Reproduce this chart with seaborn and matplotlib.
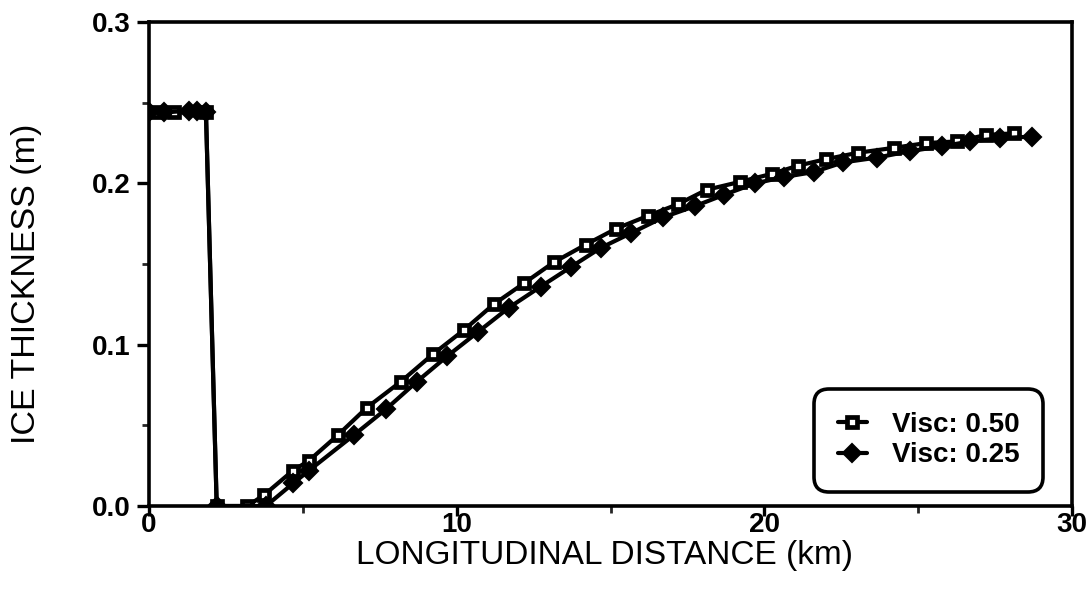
import matplotlib
matplotlib.use("Agg")
import matplotlib.pyplot as plt
import seaborn as sns
import pandas as pd

# ---- data ----
visc050_x = [0.2, 0.8, 1.85, 2.2, 3.2, 3.75, 4.68, 5.19, 6.14, 7.08, 8.18, 9.22, 10.23,
             11.2, 12.18, 13.15, 14.19, 15.19, 16.23, 17.18, 18.12, 19.22, 20.26,
             21.1, 22.0, 23.05, 24.2, 25.26, 26.27, 27.2, 28.1]
visc050_y = [0.244, 0.244, 0.244, 0.0, 0.0, 0.007, 0.022, 0.028, 0.044, 0.061, 0.077,
             0.094, 0.109, 0.125, 0.138, 0.151, 0.162, 0.172, 0.180, 0.187, 0.196,
             0.201, 0.206, 0.211, 0.215, 0.219, 0.222, 0.225, 0.226, 0.230, 0.231]

visc025_x = [0.0, 0.5, 1.3, 1.55, 1.85, 2.2, 3.8, 4.68, 5.2, 6.66, 7.7, 8.7, 9.7, 10.7,
             11.7, 12.73, 13.7, 14.68, 15.65, 16.72, 17.76, 18.7, 19.7, 20.65, 21.6,
             22.56, 23.67, 24.74, 25.78, 26.69, 27.66, 28.7]
visc025_y = [0.244, 0.244, 0.245, 0.245, 0.244, 0.0, 0.0, 0.014, 0.022, 0.044, 0.060,
             0.077, 0.093, 0.108, 0.123, 0.136, 0.148, 0.160, 0.169, 0.179, 0.186,
             0.193, 0.200, 0.204, 0.207, 0.213, 0.216, 0.220, 0.223, 0.226, 0.228, 0.229]

series_labels = ["Visc: 0.50", "Visc: 0.25"]
x_ticks = [0, 10, 20, 30]
y_ticks = [0.0, 0.1, 0.2, 0.3]
x_minor = [5, 15, 25]
y_minor = [0.05, 0.15, 0.25]
x_label = "LONGITUDINAL DISTANCE (km)"
y_label = "ICE THICKNESS (m)"

sns.set_theme(style="ticks")
plt.rcParams["font.family"] = ["Liberation Sans", "DejaVu Sans"]
plt.rcParams["text.color"] = "black"

fig = plt.figure(figsize=(10.91, 5.96), dpi=100)
ax = fig.add_axes([0.1366, 0.151, 0.846, 0.812])

df050 = pd.DataFrame({"x": visc050_x, "y": visc050_y})
df025 = pd.DataFrame({"x": visc025_x, "y": visc025_y})

LW = 3.0
sns.lineplot(data=df050, x="x", y="y", ax=ax, color="black", lw=LW, sort=False,
             estimator=None, marker="s", markersize=7.5, markerfacecolor="white",
             markeredgecolor="black", markeredgewidth=3.4, label=series_labels[0])
sns.lineplot(data=df025, x="x", y="y", ax=ax, color="black", lw=LW, sort=False,
             estimator=None, marker="D", markersize=9.5, markerfacecolor="black",
             markeredgecolor="black", markeredgewidth=1.5, label=series_labels[1])

ax.set_xlim(0, 30)
ax.set_ylim(0, 0.3)
ax.set_xticks(x_ticks)
ax.set_yticks(y_ticks)
ax.set_xticklabels([str(t) for t in x_ticks])
ax.set_yticklabels([f"{t:.1f}" for t in y_ticks])
ax.set_xticks(x_minor, minor=True)
ax.set_yticks(y_minor, minor=True)

for s in ax.spines.values():
    s.set_visible(True)
    s.set_linewidth(2.6)
    s.set_color("black")

ax.tick_params(axis="both", which="major", direction="out", length=9, width=2.4,
               labelsize=20, colors="black")
ax.tick_params(axis="both", which="minor", direction="out", length=5, width=2.0)
ax.tick_params(axis="x", which="major", length=7, pad=-2.5)
ax.tick_params(axis="y", which="major", pad=4)
ax.tick_params(axis="x", which="both", top=False)
ax.tick_params(axis="y", which="both", right=False)
for lab in ax.get_xticklabels() + ax.get_yticklabels():
    lab.set_fontweight("bold")

ax.set_xlabel(x_label, fontsize=24, color="black")
ax.xaxis.set_label_coords(0.494, -0.070)
ax.xaxis.label.set_va("top")
ax.set_ylabel(y_label, fontsize=24.5, color="black")
ax.yaxis.set_label_coords(-0.133, 0.46)
ax.yaxis.label.set_va("center")

leg = ax.legend(loc="lower right", bbox_to_anchor=(0.9686, 0.029), borderaxespad=0,
                prop={"size": 20, "weight": "bold"},
                frameon=True, fancybox=True, handlelength=1.05, handletextpad=0.9,
                borderpad=0.85, labelspacing=0.15, framealpha=1)
frame = leg.get_frame()
frame.set_edgecolor("black")
frame.set_linewidth(2.6)
frame.set_boxstyle("round,pad=0,rounding_size=0.55")
for line in leg.get_lines():
    line.set_linewidth(LW)
for t in leg.get_texts():
    t.set_color("black")

fig.savefig("out.png", dpi=100, facecolor="white")
